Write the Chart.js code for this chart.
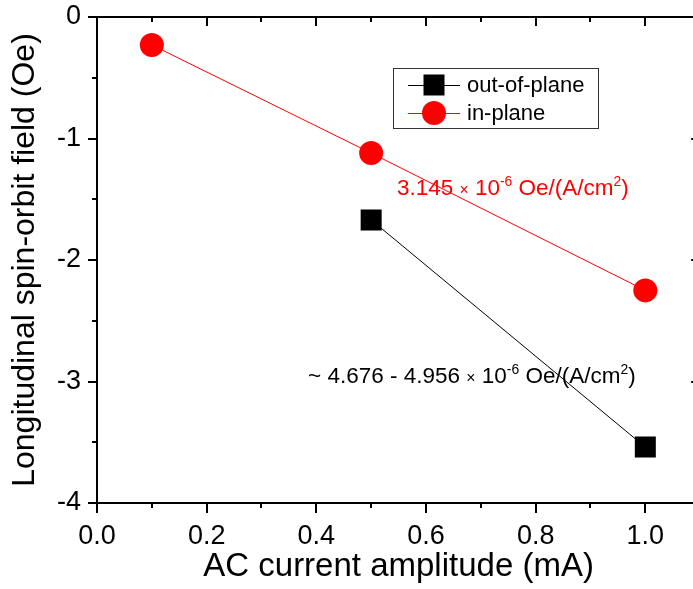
<!DOCTYPE html>
<html>
<head>
<meta charset="utf-8">
<script src="https://cdn.jsdelivr.net/npm/chart.js@4.4.1/dist/chart.umd.min.js"></script>
<style>
  html, body { margin: 0; padding: 0; background: #fff; overflow: hidden; }
  #wrap { width: 715px; height: 589px; }
</style>
</head>
<body>
<div id="wrap"><canvas id="chart" width="715" height="589"></canvas></div>
<script>
// Values
const outOfPlaneX = [0.5, 1.0];
const outOfPlaneY = [-1.67, -3.54];
const inPlaneX = [0.1, 0.5, 1.0];
const inPlaneY = [-0.23, -1.12, -2.25];
const seriesLabels = ['out-of-plane', 'in-plane'];

const xTicks = [0, 0.2, 0.4, 0.6, 0.8, 1.0];
const xMinorTicks = [0.1, 0.3, 0.5, 0.7, 0.9];
const yTicks = [0, -1, -2, -3, -4];
const yMinorTicks = [-0.5, -1.5, -2.5, -3.5];

const xTitle = 'AC current amplitude (mA)';
const yTitle = 'Longitudinal spin-orbit field (Oe)';

// fit annotations (text pieces, superscripts marked with rise)
const inPlaneFit = [
    { text: '3.145 ' }, { text: '\u00d7', scale: 0.7 }, { text: ' 10' },
    { text: '-6', scale: 0.62, rise: 0.42 }, { text: ' Oe/(A/cm' },
    { text: '2', scale: 0.62, rise: 0.42 }, { text: ')' }
];
const outOfPlaneFit = [
    { text: '~ 4.676 - 4.956 ' }, { text: '\u00d7', scale: 0.7 }, { text: ' 10' },
    { text: '-6', scale: 0.62, rise: 0.42 }, { text: ' Oe/(A/cm' },
    { text: '2', scale: 0.62, rise: 0.42 }, { text: ')' }
];

const FONT = "'Liberation Sans', Arial, sans-serif";
const RED = '#ff0000';

function toPoints(xs, ys) {
    return xs.map((x, i) => ({ x: x, y: ys[i] }));
}

function drawRich(ctx, parts, x, y, size, color) {
    let cx = x;
    ctx.fillStyle = color;
    ctx.textAlign = 'left';
    ctx.textBaseline = 'alphabetic';
    parts.forEach(p => {
        const s = size * (p.scale || 1);
        ctx.font = s + 'px ' + FONT;
        ctx.fillText(p.text, cx, y - (p.rise || 0) * size);
        cx += ctx.measureText(p.text).width;
    });
}

function drawMarker(ctx, style, x, y, color) {
    ctx.fillStyle = color;
    if (style === 'rect') {
        ctx.fillRect(x - 10.5, y - 10.5, 21, 21);
    } else {
        ctx.beginPath();
        ctx.arc(x, y, 12, 0, Math.PI * 2);
        ctx.fill();
    }
}

// no automatic padding for the tick labels: the plot box is fixed
function noPadding(s) {
    s.paddingLeft = 0;
    s.paddingRight = 0;
    s.paddingTop = 0;
    s.paddingBottom = 0;
}

// frame, ticks, legend and fit labels
const extrasPlugin = {
    id: 'extras',
    afterDraw(chart) {
        const ctx = chart.ctx;
        const a = chart.chartArea;
        const xs = chart.scales.x;
        const ys = chart.scales.y;
        ctx.save();

        ctx.strokeStyle = '#000';
        ctx.lineWidth = 2;
        ctx.strokeRect(a.left, a.top, a.right - a.left, a.bottom - a.top);

        ctx.beginPath();
        const xTick = (v, len, inner) => {
            const px = Math.round(xs.getPixelForValue(v));
            ctx.moveTo(px, a.bottom); ctx.lineTo(px, a.bottom + len);
            ctx.moveTo(px, a.top); ctx.lineTo(px, a.top + inner);
        };
        const yTick = (v, len, inner) => {
            const py = Math.round(ys.getPixelForValue(v));
            ctx.moveTo(a.left, py); ctx.lineTo(a.left - len, py);
            ctx.moveTo(a.right, py); ctx.lineTo(a.right - inner, py);
        };
        xTicks.forEach(v => xTick(v, 10, 9));
        xMinorTicks.forEach(v => xTick(v, 5, 5));
        yTicks.forEach(v => yTick(v, 9, 9));
        yMinorTicks.forEach(v => yTick(v, 5, 5));
        ctx.stroke();

        // legend
        ctx.lineWidth = 1;
        ctx.strokeStyle = '#333';
        ctx.strokeRect(393.5, 68.5, 205, 60);
        chart.data.datasets.forEach((ds, i) => {
            const ly = 85 + i * 28;
            ctx.strokeStyle = ds.borderColor;
            ctx.beginPath();
            ctx.moveTo(408, ly + 0.5);
            ctx.lineTo(460, ly + 0.5);
            ctx.stroke();
            drawMarker(ctx, ds.pointStyle, 434, ly, ds.pointBackgroundColor);
            ctx.fillStyle = '#000';
            ctx.font = '22px ' + FONT;
            ctx.textAlign = 'left';
            ctx.textBaseline = 'middle';
            ctx.fillText(ds.label, 467, ly + 1);
        });

        // fit labels anchored in data coordinates
        drawRich(ctx, inPlaneFit, xs.getPixelForValue(0.547), ys.getPixelForValue(-1.465), 22.5, RED);
        drawRich(ctx, outOfPlaneFit, xs.getPixelForValue(0.385), ys.getPixelForValue(-3.012), 22.5, '#000');

        ctx.restore();
    }
};

Chart.defaults.font.family = FONT;
Chart.defaults.color = '#000';

new Chart(document.getElementById('chart'), {
    type: 'line',
    data: {
        datasets: [{
            label: seriesLabels[0],
            data: toPoints(outOfPlaneX, outOfPlaneY),
            borderColor: '#000',
            borderWidth: 1,
            pointStyle: 'rect',
            pointRadius: 14.85,
            pointBackgroundColor: '#000',
            pointBorderWidth: 0
        }, {
            label: seriesLabels[1],
            data: toPoints(inPlaneX, inPlaneY),
            borderColor: RED,
            borderWidth: 1,
            pointStyle: 'circle',
            pointRadius: 12,
            pointBackgroundColor: RED,
            pointBorderWidth: 0
        }]
    },
    options: {
        responsive: false,
        animation: false,
        events: [],
        layout: { padding: { left: 0, top: 17, right: 2, bottom: 0 } },
        plugins: {
            legend: { display: false },
            tooltip: { enabled: false }
        },
        scales: {
            x: {
                type: 'linear',
                min: 0,
                max: 1.1,
                afterBuildTicks: s => { s.ticks = xTicks.map(v => ({ value: v })); },
                afterFit: s => { s.height = 86; noPadding(s); },
                grid: { display: false, drawTicks: false },
                border: { display: false },
                ticks: {
                    padding: 17,
                    maxRotation: 0,
                    font: { size: 27 },
                    callback: v => v.toFixed(1)
                },
                title: {
                    display: true,
                    text: xTitle,
                    font: { size: 33 },
                    padding: { top: 0, bottom: 2 }
                }
            },
            y: {
                type: 'linear',
                min: -4,
                max: 0,
                afterBuildTicks: s => { s.ticks = yTicks.map(v => ({ value: v })); },
                afterFit: s => { s.width = 97; noPadding(s); },
                grid: { display: false, drawTicks: false },
                border: { display: false },
                ticks: {
                    padding: 16,
                    font: { size: 27 },
                    callback: v => String(v)
                },
                title: {
                    display: true,
                    text: yTitle,
                    font: { size: 32 },
                    padding: { top: 6, bottom: 0 }
                }
            }
        }
    },
    plugins: [extrasPlugin]
});
</script>
</body>
</html>
